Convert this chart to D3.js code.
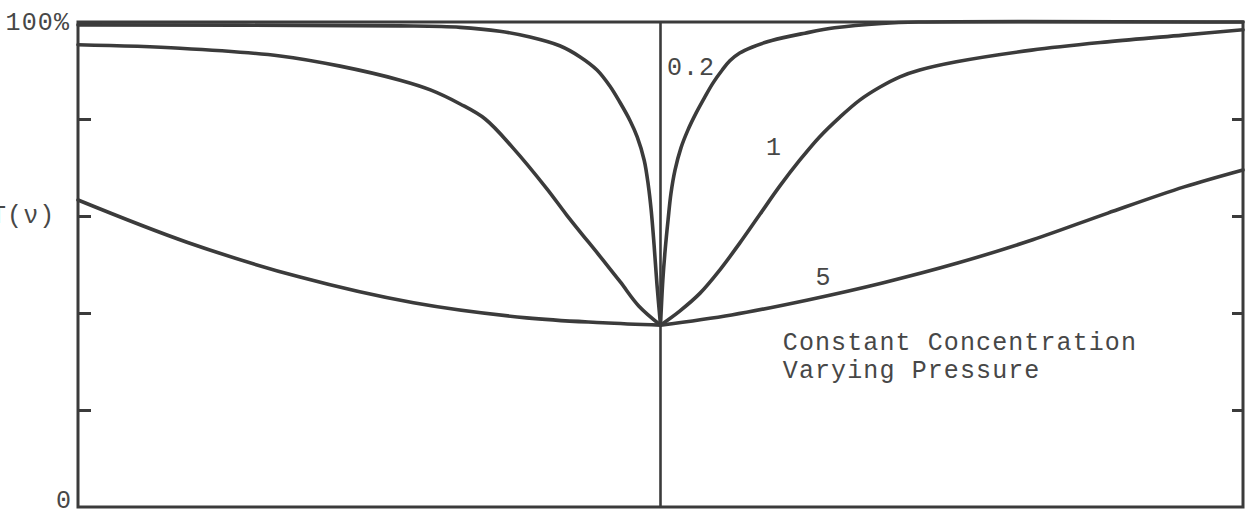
<!DOCTYPE html>
<html>
<head>
<meta charset="utf-8">
<script src="https://cdn.jsdelivr.net/npm/d3@7"></script>
<style>
  html, body { margin: 0; padding: 0; background: #fff; }
  svg { display: block; }
  text { font-family: "Liberation Mono", "Courier New", monospace; fill: #474747; letter-spacing: 1.1px; }
</style>
</head>
<body>
<svg id="chart" width="1246" height="515"></svg>
<script>
// Transmission T(ν) around a line centre, for three pressures at constant concentration.
// Offsets are frequency distance from line centre (arbitrary units), transmission in %.
const pressureLabels = ["0.2", "1", "5"];

const offsetP02 = [-10, -4.47, -3.44, -2.76, -2.24, -1.73, -1.38, -1.09, -0.87, -0.70, -0.52, -0.40,
                   -0.28, -0.21, -0.16, -0.11, -0.06, 0,
                   0.04, 0.08, 0.13, 0.18, 0.25, 0.35, 0.47, 0.61, 0.76, 0.90, 1.06, 1.19, 1.36,
                   1.57, 1.91, 2.48, 2.99, 3.80, 4.43, 10];
const transP02  = [99.4, 99.2, 98.9, 98.1, 96.9, 95.1, 92.8, 90.1, 86.8, 83.5, 79.6, 76.3,
                   71.5, 66.4, 61.2, 54.0, 45.8, 37.5,
                   46.8, 53.0, 59.2, 64.7, 69.5, 74.0, 77.7, 81.2, 84.5, 87.4, 90.1, 92.0, 93.6,
                   94.8, 96.2, 97.7, 98.8, 99.7, 100, 100];

const offsetP1 = [-10, -8.25, -6.53, -5.50, -4.47, -3.95, -3.44, -3.01, -2.53, -1.95, -1.61, -1.00,
                  -0.69, -0.37, 0,
                  0.33, 0.68, 1.02, 1.36, 1.71, 2.05, 2.39, 2.73, 3.08, 3.42, 3.77, 4.11, 4.45,
                  5.08, 6.37, 7.67, 8.97, 10];
const transP1  = [95.3, 94.6, 93.0, 90.9, 88.0, 86.0, 83.1, 80.0, 74.0, 65.6, 60.2, 51.1,
                  46.4, 41.4, 37.5,
                  40.4, 44.1, 48.9, 54.4, 60.4, 66.2, 71.5, 76.3, 80.4, 83.9, 86.6, 88.7, 90.1,
                  91.8, 94.2, 95.9, 97.3, 98.4];

const offsetP5 = [-10, -8.13, -6.19, -4.24, -2.3, -0.99, 0, 1.22, 2.53, 3.81, 5.1, 6.39, 7.68, 8.99, 10];
const transP5  = [63.3, 54.6, 47.4, 42.1, 39.0, 38.0, 37.5, 39.6, 42.7, 46.2, 50.3, 55.1, 60.6, 66.0, 69.5];

const yTickValues = [20, 40, 60, 80];
const yEndLabels = ["0", "100%"];
const noteLines = ["Constant Concentration", "Varying Pressure"];

const ink = "#3b3b3b";
const svg = d3.select("#chart");

const x = d3.scaleLinear().domain([-10, 10]).range([78, 1243]);
const y = d3.scaleLinear().domain([0, 100]).range([507, 22]);

// Frame
svg.append("rect")
  .attr("x", x(-10)).attr("y", y(100))
  .attr("width", x(10) - x(-10)).attr("height", y(0) - y(100))
  .attr("fill", "none").attr("stroke", ink).attr("stroke-width", 3);

// Line-centre marker
svg.append("line")
  .attr("x1", x(0)).attr("x2", x(0))
  .attr("y1", y(100)).attr("y2", y(0))
  .attr("stroke", ink).attr("stroke-width", 2.6);

// Inward ticks on both sides
const leftAxis = svg.append("g")
  .attr("transform", `translate(${x(-10)},0)`)
  .call(d3.axisRight(y).tickValues(yTickValues).tickSize(13).tickFormat(() => ""));
const rightAxis = svg.append("g")
  .attr("transform", `translate(${x(10)},0)`)
  .call(d3.axisLeft(y).tickValues(yTickValues).tickSize(11).tickFormat(() => ""));
[leftAxis, rightAxis].forEach(g => {
  g.select(".domain").remove();
  g.selectAll(".tick line").attr("stroke", ink).attr("stroke-width", 3);
});

// Curves: each drawn as two halves so the line centre stays a sharp cusp
const line = d3.line()
  .x(d => x(d[0]))
  .y(d => y(d[1]))
  .curve(d3.curveCatmullRom.alpha(0.5));

const series = [
  { label: pressureLabels[0], offsets: offsetP02, trans: transP02 },
  { label: pressureLabels[1], offsets: offsetP1, trans: transP1 },
  { label: pressureLabels[2], offsets: offsetP5, trans: transP5 }
];

series.forEach(s => {
  const pts = s.offsets.map((o, i) => [o, s.trans[i]]);
  const left = pts.filter(p => p[0] <= 0);
  const right = pts.filter(p => p[0] >= 0);
  [left, right].forEach(half => {
    svg.append("path")
      .attr("d", line(half))
      .attr("fill", "none")
      .attr("stroke", ink)
      .attr("stroke-width", 3.6)
      .attr("stroke-linejoin", "round")
      .attr("stroke-linecap", "round");
  });
});

// Axis end labels and axis title
const fs = 25;
svg.append("text").attr("x", 72).attr("y", y(0) + 1).attr("text-anchor", "end")
  .attr("font-size", fs).text(yEndLabels[0]);
svg.append("text").attr("x", 70).attr("y", y(100) + 8).attr("text-anchor", "end")
  .attr("font-size", fs).text(yEndLabels[1]);
svg.append("text").attr("x", -9).attr("y", y(58.6)).attr("font-size", fs).text("T(ν)");

// Curve labels
svg.append("text").attr("x", x(0.11)).attr("y", y(89.1)).attr("font-size", fs).text(series[0].label);
svg.append("text").attr("x", x(1.81)).attr("y", y(72.6)).attr("font-size", fs).text(series[1].label);
svg.append("text").attr("x", x(2.66)).attr("y", y(45.8)).attr("font-size", fs).text(series[2].label);

// Note
noteLines.forEach((t, i) => {
  svg.append("text")
    .attr("x", x(2.1))
    .attr("y", y(32.4) + i * 28)
    .attr("font-size", fs)
    .text(t);
});
</script>
</body>
</html>
